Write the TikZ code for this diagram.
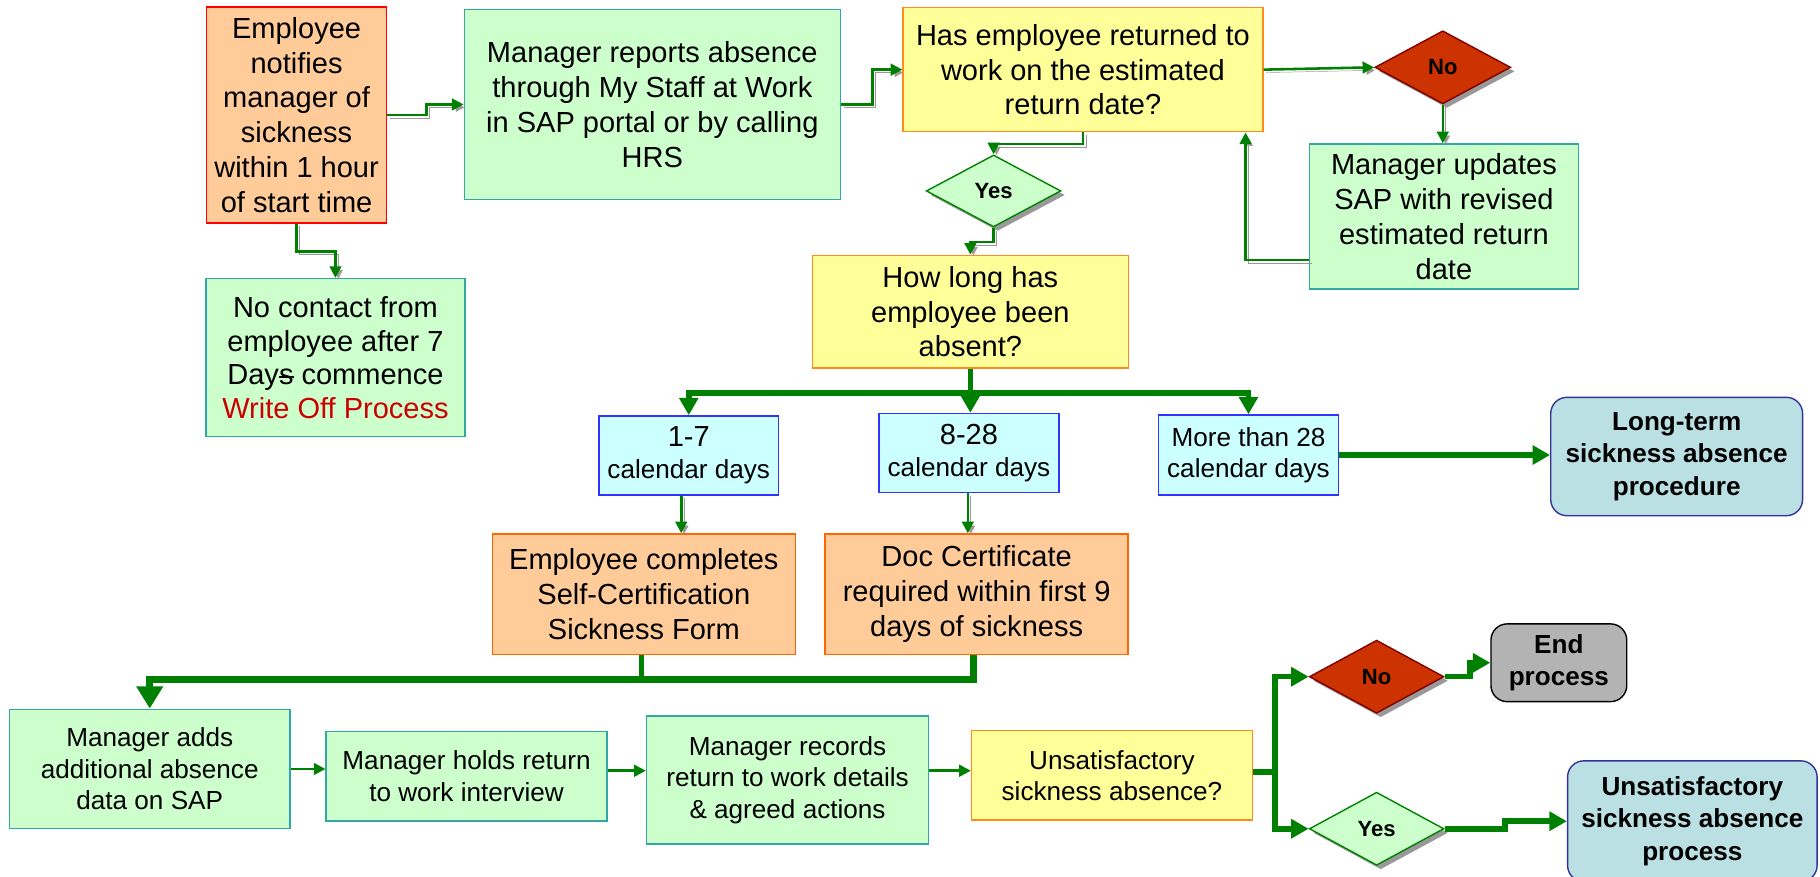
\documentclass[tikz,border=0pt]{standalone}
\usepackage{fontspec}
\setmainfont{Liberation Sans}
\usetikzlibrary{shapes.geometric,arrows.meta,shadows}

\definecolor{boxgreen}{HTML}{CCFFCC}
\definecolor{boxteal}{HTML}{33A6A6}
\definecolor{boxorange}{HTML}{FFCC99}
\definecolor{edgeorange}{HTML}{FF6600}
\definecolor{boxyellow}{HTML}{FFFF99}
\definecolor{edgeyellow}{HTML}{FF8C1A}
\definecolor{boxblue}{HTML}{CCFFFF}
\definecolor{edgeblue}{HTML}{3333FF}
\definecolor{endblue}{HTML}{BBE0E3}
\definecolor{edgenavy}{HTML}{333399}
\definecolor{endgray}{HTML}{B3B3B3}
\definecolor{nored}{HTML}{CC3300}
\definecolor{nodark}{HTML}{800000}
\definecolor{linkgreen}{HTML}{008000}
\definecolor{shadowgray}{HTML}{999999}
\definecolor{offred}{HTML}{CC0000}

\tikzset{
        wh/.style 2 args={minimum width=#1pt, minimum height=#2pt},
        box/.style={rectangle, draw, line width=1.2pt, inner sep=0pt, align=center, font=\fontsize{25}{30}\selectfont},
        smalltext/.style={font=\fontsize{22.5}{27}\selectfont},
        greenbox/.style={box, fill=boxgreen, draw=boxteal},
        orangebox/.style={box, fill=boxorange, draw=edgeorange},
        yellowbox/.style={box, fill=boxyellow, draw=edgeyellow},
        bluebox/.style={box, fill=boxblue, draw=edgeblue, smalltext},
        endbox/.style={box, rounded corners=14pt, font=\bfseries\fontsize{22.5}{28}\selectfont},
        decision/.style={diamond, inner sep=0pt, line width=1.2pt, font=\bfseries\fontsize{19}{22}\selectfont,
                drop shadow={shadow xshift=3.5pt, shadow yshift=-3.5pt, fill=shadowgray, opacity=1}},
        link/.style={draw=linkgreen, line width=2.2pt, -{Triangle[length=10pt,width=10pt]}},
        shlink/.style={link, preaction={draw=shadowgray, transform canvas={shift={(2.5pt,-2.5pt)}}}},
        bigline/.style={draw=linkgreen, line width=4.8pt},
        bigarrow/.style={bigline, -{Triangle[length=15pt,width=16pt]}},
        mergearrow/.style={draw=linkgreen, line width=6pt, -{Triangle[length=19pt,width=22pt]}}
}

\begin{document}
\begin{tikzpicture}[x=1pt, y=-1pt]
        \useasboundingbox (0,0) rectangle (1568,755);
        \clip (0,0) rectangle (1568,755);
        \node[orangebox, draw=red, wh={155}{186}] (EN) at (255.5,99) {Employee\\notifies\\manager of\\sickness\\within 1 hour\\of start time};
        \node[greenbox, wh={324}{164}] (MR) at (562,90) {Manager reports absence\\through My Staff at Work\\in SAP portal or by calling\\HRS};
        \node[yellowbox, wh={310}{107}] (RD) at (933,60) {Has employee returned to\\work on the estimated\\return date?};
        \node[decision, fill=nored, draw=nodark, wh={117}{63}] (N1) at (1243,58) {No};
        \node[greenbox, wh={232}{125}] (MU) at (1244,186.5) {Manager updates\\SAP with revised\\estimated return\\date};
        \node[greenbox, wh={223}{136}, font=\fontsize{25}{29}\selectfont] (NC) at (289,308) {No contact from\\employee after 7\\Day\rlap{\rule[0.24em]{0.52em}{0.07em}}s commence\\\textcolor{offred}{Write Off Process}};
        \node[decision, fill=boxgreen, draw=linkgreen, wh={116}{62}] (Y1) at (856,164.5) {Yes};
        \node[yellowbox, wh={272}{97}] (HL) at (836,268.5) {How long has\\employee been\\absent?};
        \node[bluebox, wh={155}{68}] (D1) at (593.4,392.3) {{\fontsize{25}{30}\selectfont 1-7}\\calendar days};
        \node[bluebox, wh={155}{68}] (D2) at (834.8,390.2) {{\fontsize{25}{30}\selectfont 8-28}\\calendar days};
        \node[bluebox, wh={155.5}{69}] (D3) at (1075.6,392) {More than 28\\calendar days};
        \node[endbox, fill=endblue, draw=edgenavy, wh={217}{102}] (LT) at (1444.5,393.3) {Long-term\\sickness absence\\procedure};
        \node[orangebox, wh={261}{104}] (SC) at (554.7,512) {Employee completes\\Self-Certification\\Sickness Form};
        \node[orangebox, wh={261}{104}] (DC) at (841.4,512) {Doc Certificate\\required within first 9\\days of sickness};
        \node[greenbox, smalltext, wh={242}{103}] (MA) at (129,662.5) {Manager adds\\additional absence\\data on SAP};
        \node[greenbox, smalltext, wh={242}{77}] (MH) at (402,668.7) {Manager holds return\\to work interview};
        \node[greenbox, smalltext, wh={243}{110}] (MW) at (678.5,672) {Manager records\\return to work details\\\& agreed actions};
        \node[yellowbox, smalltext, wh={242}{77}] (US) at (958,668) {Unsatisfactory\\sickness absence?};
        \node[decision, fill=nored, draw=nodark, wh={116}{63}] (N2) at (1186,583) {No};
        \node[endbox, fill=endgray, draw=black, wh={117}{67}] (EP) at (1343,571) {End\\process};
        \node[decision, fill=boxgreen, draw=linkgreen, wh={116}{63}] (Y2) at (1186,714) {Yes};
        \node[endbox, fill=endblue, draw=edgenavy, wh={215}{104}] (UP) at (1458,707.5) {Unsatisfactory\\sickness absence\\process};
        \draw[shlink] (EN.east) -- ++(34,0) |- (MR.west);
        \draw[shlink] (MR.east) -- ++(27,0) |- (RD.west);
        \draw[shlink] (RD.east) -- (N1.west);
        \draw[shlink] (N1.south) -- (N1.south |- MU.north);
        \draw[shlink] ([yshift=-37.5pt]MU.west) -| ([xshift=-15.5pt]RD.south east);
        \draw[shlink] (RD.south) -- ++(0,10) -| (Y1.north);
        \draw[shlink] (Y1.south) -- ++(0,12.5) -| (HL.north);
        \draw[shlink] (EN.south) -- ++(0,24) -| (NC.north);
        \draw[bigline] (HL.south) -- ++(0,21) coordinate (F);
        \draw[bigarrow] (F) -| (D1.north);
        \draw[bigarrow] (F) -| (D3.north);
        \draw[bigarrow] (F) -- (F |- D2.north);
        \draw[shlink] ([xshift=-6.5pt]D1.south) -- ([xshift=-6.5pt]D1.south |- SC.north);
        \draw[shlink] ([xshift=-1pt]D2.south) -- ([xshift=-1pt]D2.south |- DC.north);
        \draw[bigarrow] (D3.east) -- (D3.east -| LT.west);
        \draw[bigline] ([xshift=-2pt]SC.south) -- ++(0,23);
        \draw[mergearrow] ([xshift=-3pt]DC.south) -- ++(0,21) -| (MA.north);
        \draw[link] (MA.east) -- (MA.east -| MH.west);
        \draw[link] ([yshift=4.7pt]MH.east) -- ([yshift=4.7pt]MH.east -| MW.west);
        \draw[link] ([yshift=8pt]MW.east) -- ([yshift=8pt]MW.east -| US.west);
        \draw[bigline] ([yshift=3pt]US.east) -- ++(19,0) coordinate (G);
        \draw[bigarrow] (G) |- (N2.west);
        \draw[bigarrow] (G) |- (Y2.west);
        \draw[bigarrow] (N2.east) -- ++(22,0) |- (EP.west);
        \draw[bigarrow] (Y2.east) -- ++(52,0) |- (UP.west);
\end{tikzpicture}
\end{document}
